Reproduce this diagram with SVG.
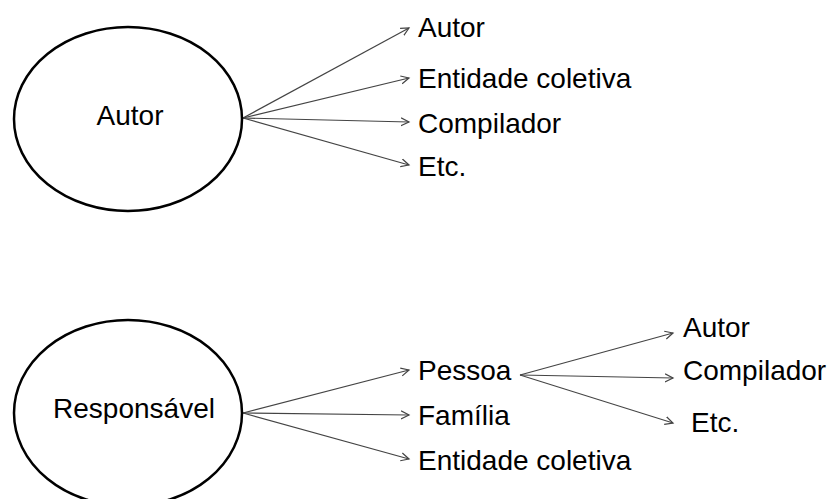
<svg xmlns="http://www.w3.org/2000/svg" width="827" height="499" viewBox="0 0 827 499">
<style>
.node{fill:#fff;stroke:#000;stroke-width:2.5}
.t{font-family:"Liberation Sans",Arial,sans-serif;font-size:28px;fill:#000}
.c{stroke:#444;stroke-width:1.2;fill:none;marker-end:url(#ah)}
</style>
<defs>
<marker id="ah" markerUnits="userSpaceOnUse" markerWidth="10" markerHeight="10" refX="8" refY="4" orient="auto" viewBox="0 0 10 8">
<path d="M0,0 L8,4 L0,8" fill="none" stroke="#444" stroke-width="1.2"/>
</marker>
</defs>
<rect width="827" height="499" fill="#fff"/>
<g id="connectors">
<line class="c" x1="243" y1="118" x2="409" y2="28"/>
<line class="c" x1="243" y1="118" x2="409" y2="78"/>
<line class="c" x1="243" y1="118" x2="409" y2="122"/>
<line class="c" x1="243" y1="118" x2="409" y2="165"/>
<line class="c" x1="243" y1="413" x2="409" y2="370"/>
<line class="c" x1="243" y1="413" x2="409" y2="415"/>
<line class="c" x1="243" y1="413" x2="409" y2="459"/>
<line class="c" x1="520" y1="375" x2="673" y2="333"/>
<line class="c" x1="520" y1="375" x2="673" y2="378"/>
<line class="c" x1="520" y1="375" x2="673" y2="423"/>
</g>
<g id="autor-main">
<ellipse class="node" cx="128" cy="119" rx="114" ry="92"/>
<text class="t" x="130" y="125" text-anchor="middle">Autor</text>
</g>
<g id="autor-1"><text class="t" x="418" y="37">Autor</text></g>
<g id="entidade-1"><text class="t" x="418" y="88">Entidade coletiva</text></g>
<g id="compilador-1"><text class="t" x="418" y="133">Compilador</text></g>
<g id="etc-1"><text class="t" x="418" y="176">Etc.</text></g>
<g id="responsavel">
<ellipse class="node" cx="128" cy="413" rx="114" ry="93"/>
<text class="t" x="134" y="418" text-anchor="middle">Responsável</text>
</g>
<g id="pessoa"><text class="t" x="418" y="380">Pessoa</text></g>
<g id="familia"><text class="t" x="418" y="425">Família</text></g>
<g id="entidade-2"><text class="t" x="418" y="470">Entidade coletiva</text></g>
<g id="autor-2"><text class="t" x="683" y="337">Autor</text></g>
<g id="compilador-2"><text class="t" x="683" y="380">Compilador</text></g>
<g id="etc-2"><text class="t" x="691" y="432">Etc.</text></g>
</svg>
